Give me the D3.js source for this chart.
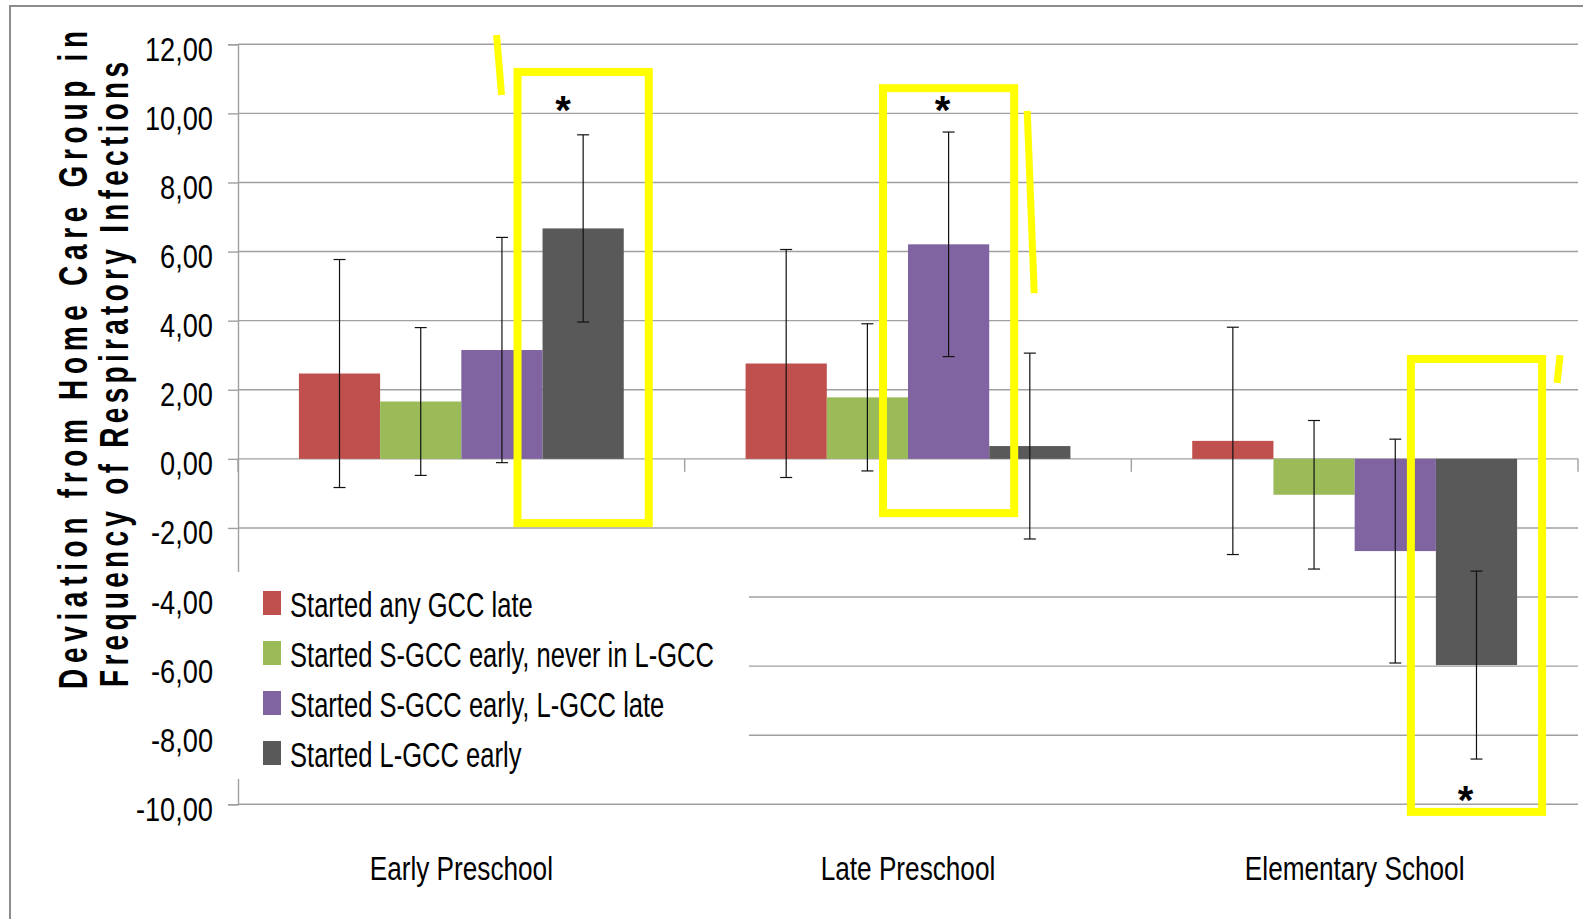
<!DOCTYPE html>
<html>
<head>
<meta charset="utf-8">
<script src="https://cdn.jsdelivr.net/npm/d3@7"></script>
<style>
  html, body { margin: 0; padding: 0; background: #fff; }
  svg { display: block; font-family: "Liberation Sans", Arial, sans-serif; }
</style>
</head>
<body>
<svg id="chart" width="1583" height="919"></svg>
<script>
const categories = ["Early Preschool", "Late Preschool", "Elementary School"];
const seriesNames = [
  "Started any GCC late",
  "Started S-GCC early, never in L-GCC",
  "Started S-GCC early, L-GCC late",
  "Started L-GCC early"
];

// mean deviation per category
const anyLate = [2.47, 2.76, 0.52];
const sEarlyNeverL = [1.66, 1.78, -1.04];
const sEarlyLLate = [3.15, 6.21, -2.67];
const lEarly = [6.67, 0.37, -5.97];

// half length of the error bars
const anyLateErr = [3.30, 3.30, 3.29];
const sEarlyNeverLErr = [2.14, 2.13, 2.15];
const sEarlyLLateErr = [3.26, 3.25, 3.24];
const lEarlyErr = [2.71, 2.69, 2.72];

const yTicks = [-10, -8, -6, -4, -2, 0, 2, 4, 6, 8, 10, 12];

// marked (significant) bars: category, series index, box range in data units
const highlights = [
  { cat: "Early Preschool", series: 3, top: 11.2, bottom: -1.86, star: 10.36, starDx: -20 },
  { cat: "Late Preschool", series: 2, top: 10.73, bottom: -1.57, star: 10.36, starDx: -6 },
  { cat: "Elementary School", series: 3, top: 2.89, bottom: -10.22, star: -9.62, starDx: -11 }
];
const slashes = [
  { box: 0, side: "left", dx1: -21, y1: 12.27, dx2: -16, y2: 10.53 },
  { box: 1, side: "right", dx1: 13, y1: 10.07, dx2: 20, y2: 4.8 },
  { box: 2, side: "right", dx1: 18, y1: 3.0, dx2: 15, y2: 2.2 }
];

const colors = ["#C0504D", "#9BBB59", "#8064A2", "#595959"];
const values = [anyLate, sEarlyNeverL, sEarlyLLate, lEarly];
const errors = [anyLateErr, sEarlyNeverLErr, sEarlyLLateErr, lEarlyErr];

const rows = [];
categories.forEach((c, ci) => {
  values.forEach((v, si) => {
    rows.push({ cat: c, series: si, value: v[ci], err: errors[si][ci] });
  });
});

const svg = d3.select("#chart");

const plot = { left: 238, right: 1578, top: 44.3, bottom: 804.3 };

const x0 = d3.scaleBand().domain(categories).range([plot.left, plot.right]);
const x1 = d3.scaleBand()
  .domain(d3.range(seriesNames.length))
  .range([0, x0.bandwidth()])
  .paddingInner(0)
  .paddingOuter(0.75);
const y = d3.scaleLinear().domain([-10, 12]).range([plot.bottom, plot.top]);

const fmt = (d) => d3.format(".2f")(d).replace(".", ",").replace("−", "-");

// outer frame
svg.append("rect")
  .attr("x", 10).attr("y", 6)
  .attr("width", 1700).attr("height", 1000)
  .attr("fill", "none")
  .attr("stroke", "#8c8c8c")
  .attr("stroke-width", 2);

// gridlines
svg.append("g")
  .selectAll("line")
  .data(yTicks)
  .join("line")
  .attr("x1", plot.left).attr("x2", plot.right)
  .attr("y1", (d) => y(d)).attr("y2", (d) => y(d))
  .attr("stroke", "#a0a0a0")
  .attr("stroke-width", 1.4);

// y axis with small tick marks
const yAxis = svg.append("g")
  .attr("transform", `translate(${plot.left},0)`)
  .call(d3.axisLeft(y).tickValues(yTicks).tickSize(10).tickFormat(fmt));
yAxis.select(".domain").attr("stroke", "#a0a0a0").attr("stroke-width", 1.4);
yAxis.selectAll(".tick line").attr("stroke", "#a0a0a0").attr("stroke-width", 1.4);
yAxis.selectAll(".tick text")
  .attr("x", null).attr("dy", null)
  .attr("transform", "translate(-25,16) scale(0.8,1)")
  .attr("font-size", 34)
  .attr("font-family", "Liberation Sans, Arial, sans-serif")
  .attr("fill", "#000")
  .attr("text-anchor", "end");

// bars
svg.append("g")
  .selectAll("rect")
  .data(rows)
  .join("rect")
  .attr("x", (d) => x0(d.cat) + x1(d.series))
  .attr("width", x1.bandwidth())
  .attr("y", (d) => y(Math.max(0, d.value)))
  .attr("height", (d) => Math.abs(y(d.value) - y(0)))
  .attr("fill", (d) => colors[d.series]);

// error bars
const eb = svg.append("g")
  .selectAll("g")
  .data(rows)
  .join("g")
  .attr("transform", (d) => `translate(${x0(d.cat) + x1(d.series) + x1.bandwidth() / 2},0)`)
  .attr("stroke", "#111")
  .attr("stroke-width", 1.2);
eb.append("line")
  .attr("y1", (d) => y(d.value + d.err))
  .attr("y2", (d) => y(d.value - d.err));
eb.append("line")
  .attr("x1", -6).attr("x2", 6)
  .attr("y1", (d) => y(d.value + d.err))
  .attr("y2", (d) => y(d.value + d.err));
eb.append("line")
  .attr("x1", -6).attr("x2", 6)
  .attr("y1", (d) => y(d.value - d.err))
  .attr("y2", (d) => y(d.value - d.err));

// category tick marks on the zero line
const bounds = categories.map((c) => x0(c)).concat([x0.range()[1]]);
svg.append("g")
  .selectAll("line")
  .data(bounds)
  .join("line")
  .attr("x1", (d) => d).attr("x2", (d) => d)
  .attr("y1", y(0)).attr("y2", y(0) + 13)
  .attr("stroke", "#a0a0a0")
  .attr("stroke-width", 1.4);

// category labels
svg.append("g")
  .selectAll("text")
  .data(categories)
  .join("text")
  .attr("transform", (d) => `translate(${x0(d) + x0.bandwidth() / 2},880) scale(0.77,1)`)
  .attr("text-anchor", "middle")
  .attr("font-size", 34)
  .attr("fill", "#000")
  .text((d) => d);

// legend (white box over the plot)
const legend = svg.append("g");
legend.append("rect")
  .attr("x", 222).attr("y", 572)
  .attr("width", 527).attr("height", 207)
  .attr("fill", "#fff");
const li = legend.selectAll("g")
  .data(seriesNames)
  .join("g")
  .attr("transform", (d, i) => `translate(263,${617 + i * 50})`);
li.append("rect")
  .attr("x", 0).attr("y", -26)
  .attr("width", 18).attr("height", 24)
  .attr("fill", (d, i) => colors[i]);
li.append("text")
  .attr("transform", "translate(27,0) scale(0.71,1)")
  .attr("font-size", 36)
  .attr("fill", "#000")
  .text((d) => d);

// y axis title, two rotated lines with wide letter spacing
const titleScale = 0.7;
const titleLines = [
  { text: "Deviation from Home Care Group in", x: 87, y: 689, len: 658 },
  { text: "Frequency of Respiratory Infections", x: 128, y: 687, len: 625 }
];
svg.append("g")
  .selectAll("text")
  .data(titleLines)
  .join("text")
  .attr("transform", (d) => `translate(${d.x},${d.y}) rotate(-90) scale(${titleScale},1)`)
  .attr("font-size", 40)
  .attr("font-weight", "bold")
  .attr("fill", "#000")
  .attr("textLength", (d) => d.len / titleScale)
  .attr("lengthAdjust", "spacing")
  .text((d) => d.text);

// yellow highlight boxes
const pad = 25;
const boxes = highlights.map((h) => ({
  left: x0(h.cat) + x1(h.series) - pad,
  right: x0(h.cat) + x1(h.series) + x1.bandwidth() + pad,
  top: y(h.top),
  bottom: y(h.bottom),
  cx: x0(h.cat) + x1(h.series) + x1.bandwidth() / 2,
  star: h
}));

svg.append("g")
  .selectAll("rect")
  .data(boxes)
  .join("rect")
  .attr("x", (d) => d.left).attr("y", (d) => d.top)
  .attr("width", (d) => d.right - d.left)
  .attr("height", (d) => d.bottom - d.top)
  .attr("fill", "none")
  .attr("stroke", "#FFFF00")
  .attr("stroke-width", 8);

svg.append("g")
  .selectAll("line")
  .data(slashes)
  .join("line")
  .attr("x1", (d) => (d.side === "left" ? boxes[d.box].left : boxes[d.box].right) + d.dx1)
  .attr("x2", (d) => (d.side === "left" ? boxes[d.box].left : boxes[d.box].right) + d.dx2)
  .attr("y1", (d) => y(d.y1))
  .attr("y2", (d) => y(d.y2))
  .attr("stroke", "#FFFF00")
  .attr("stroke-width", 7);

// significance stars
svg.append("g")
  .selectAll("text")
  .data(boxes)
  .join("text")
  .attr("x", (d) => d.cx + d.star.starDx)
  .attr("y", (d) => y(d.star.star) + 23)
  .attr("text-anchor", "middle")
  .attr("font-size", 40)
  .attr("font-weight", "bold")
  .attr("fill", "#000")
  .text("*");
</script>
</body>
</html>
